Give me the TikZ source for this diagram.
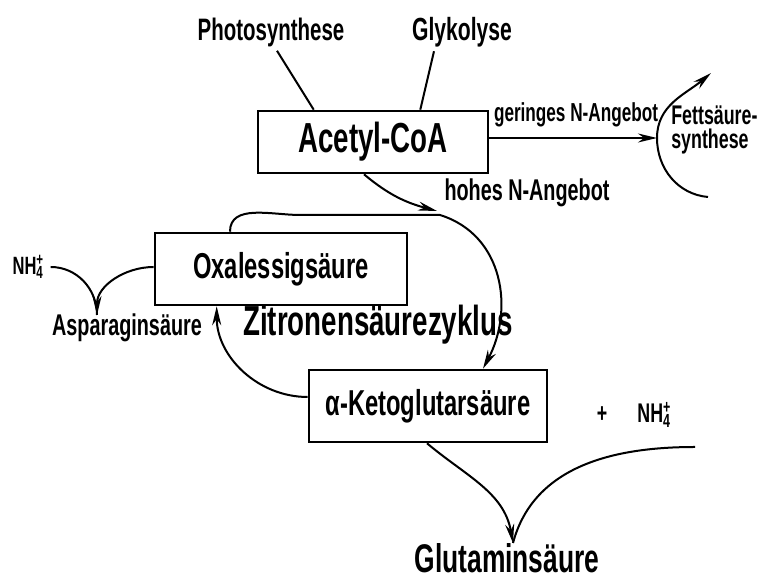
\documentclass[tikz,border=0pt]{standalone}
\usepackage{fontspec}
\setmainfont{Liberation Sans}[FakeStretch=0.66]
\usetikzlibrary{arrows.meta}
\tikzset{
  stoff/.style={draw, line width=2.6pt, inner sep=0pt, minimum height=72pt},
  pfeil/.style={-{Stealth[length=19pt,width=9pt]}},
  every node/.style={font=\bfseries},
}
\newcommand{\gr}[1]{\fontsize{#1}{#1}\selectfont}
\newcommand{\ammon}{NH\rlap{\textsuperscript{+}}\textsubscript{4}}
\begin{document}
\begin{tikzpicture}[x=1pt,y=1pt,line width=2pt]
  \useasboundingbox (0,0) rectangle (769,580);
  \draw
    (373,438) node[stoff,minimum width=230pt,minimum height=62pt] (acetyl){\gr{42}Acetyl-CoA}
    (271,548) node (photo){\gr{31}Photosynthese}
    (462,548) node (glyko){\gr{32}Glykolyse}
    (576,465) node (gering){\gr{26}geringes N-Angebot}
    (667,450) node[anchor=west,align=left,font=\bfseries\fontsize{27}{24}\selectfont] (fett){Fettsäure-\\synthese}
    (527,387) node (hohes){\gr{30}hohes N-Angebot}
    (281,311) node[stoff,minimum width=252pt] (oxal){\gr{36}Oxalessigsäure}
    (378,255) node (zitrone){\gr{42}Zitronensäurezyklus}
    (127,252) node (aspar){\gr{30}Asparaginsäure}
    (28,313) node (nha){\gr{25}\ammon}
    (428,174) node[stoff,minimum width=238pt] (keto){\gr{36}α-Ketoglutarsäure}
    (602,165) node (plus){\gr{27}+}
    (654,165) node (nhb){\gr{27}\ammon}
    (507,22) node (glut){\gr{40}Glutaminsäure};
  \coordinate (fa) at (657,442);
  \coordinate (fu) at (708,383);
  \coordinate (fo) at (711,507);
  \coordinate (hoch) at (437,369);
  \coordinate (asp) at (97,265);
  \coordinate (nhend) at (695,133);
  \coordinate (glu) at (513,37);
  \begin{scope}
    \draw ([xshift=6]photo.south) -- ([xshift=57]acetyl.north west);
    \draw ([xshift=-28]glyko.south) -- ([xshift=-69]acetyl.north east);
    \draw[pfeil] ([yshift=4]acetyl.east) -- (fa);
    \draw[pfeil] (fu) to[out=175,in=-90] (fa) to[out=90,in=-140] (fo);
    \draw[pfeil] ([xshift=-9]acetyl.south) to[out=-40,in=165] (hoch);
    \draw[pfeil] ([xshift=-51]oxal.north) to[out=90,in=180] (300,365)
      -- (440,365) .. controls (504,345) and (514,270) .. ([xshift=55]keto.north);
    \draw[pfeil] ([yshift=9]keto.west) to[out=180,in=-90] ([xshift=63]oxal.south west);
    \draw ([xshift=3]nha.east) to[out=0,in=90] (asp);
    \draw[pfeil] ([yshift=2]oxal.west) to[out=180,in=90] (asp);
    \draw (nhend) to[out=180,in=75] (glu);
    \draw[pfeil] ([xshift=-1]keto.south) to[out=-40,in=100] (glu);
  \end{scope}
\end{tikzpicture}
\end{document}
